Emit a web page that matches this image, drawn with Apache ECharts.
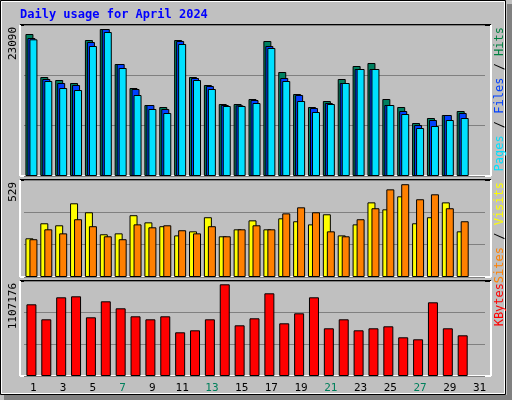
<!DOCTYPE html>
<html>
<head>
<meta charset="utf-8">
<script src="https://cdn.jsdelivr.net/npm/echarts@6/dist/echarts.min.js"></script>
<style>
  html, body { margin: 0; padding: 0; background: #c0c0c0; }
  #chart { width: 512px; height: 400px; }
</style>
</head>
<body>
<div id="chart"></div>
<script>
var days = [];
for (var d = 1; d <= 31; d++) days.push(String(d));
var weekendDays = ['6', '7', '13', '14', '20', '21', '27', '28'];

var hits = [21712, 15137, 14679, 14220, 20795, 22477, 17125, 13456, 10856, 10550, 20795, 15137, 13914, 11009, 11009, 11774,
  20642, 15902, 12538, 10550, 11468, 14832, 16819, 17278, 11774, 10550, 8104, 8868, 9327, 9939, null];
var files = [21100, 14832, 14220, 13914, 20489, 22477, 17125, 13302, 10856, 10244, 20642, 14984, 13761, 10856, 10800, 11620,
  19877, 14984, 12385, 10397, 11162, 14220, 16360, 16360, 10856, 9939, 7798, 8562, 9327, 9633, null];
var pages = [20900, 14526, 13456, 13150, 19877, 22018, 16513, 12385, 10244, 9633, 20183, 14679, 13302, 10703, 10703, 11162,
  19571, 14526, 11468, 9786, 11009, 14220, 16360, 16360, 10856, 9480, 7339, 7645, 8562, 8868, null];
var visits = [211, 293, 282, 402, 353, 233, 238, 337, 298, 277, 227, 249, 326, 222, 260, 309,
  260, 320, 304, 287, 342, 227, 287, 407, 369, 440, 293, 326, 407, 249, null];
var sites = [206, 260, 238, 315, 277, 222, 206, 287, 271, 282, 255, 238, 277, 222, 260, 282,
  260, 347, 380, 353, 249, 222, 315, 375, 478, 506, 424, 451, 375, 304, null];
var kbytes = [835600, 660800, 917200, 928800, 684100, 870600, 789000, 695800, 660800, 695800, 509300, 532600, 660800, 1068700,
  590900, 672400, 963800, 614200, 730700, 917200, 555900, 660800, 532600, 555900, 579200, 451000, 427700, 858900, 555900, 474300, null];

var hitsMax = 23090, sitesMax = 529, kbytesMax = 1107176;
var mono = 'DejaVu Sans Mono';

var chart = echarts.init(document.getElementById('chart'));

function xAxis(index, showLabels) {
  return {
    type: 'category', gridIndex: index, data: days,
    axisLine: { show: false }, axisTick: { show: false },
    axisLabel: {
      show: showLabels, margin: 7, fontFamily: mono, fontSize: 11, padding: [0, 0, 0, 4],
      color: function (v) { return weekendDays.indexOf(v) >= 0 ? '#00805c' : '#000'; }
    }
  };
}
function yAxis(index, max) {
  return {
    type: 'value', gridIndex: index, min: 0, max: max, interval: max / 3,
    axisLabel: { show: false }, axisLine: { show: false }, axisTick: { show: false },
    splitLine: { lineStyle: { color: '#808080', width: 1 } }
  };
}
function bar(name, data, color, axis, width, gap) {
  return {
    name: name, type: 'bar', data: data, xAxisIndex: axis, yAxisIndex: axis,
    barWidth: width, barGap: gap, animation: false,
    itemStyle: { color: color, borderColor: '#000', borderWidth: 1 }
  };
}
function frame(top, height) {
  return [
    { type: 'line', shape: { x1: 20, y1: top, x2: 491, y2: top }, style: { stroke: '#000', lineWidth: 2 } },
    { type: 'line', shape: { x1: 20, y1: top, x2: 20, y2: top + height }, style: { stroke: '#fff', lineWidth: 2 } },
    { type: 'line', shape: { x1: 20, y1: top + height, x2: 491, y2: top + height }, style: { stroke: '#fff', lineWidth: 2 } },
    { type: 'line', shape: { x1: 491, y1: top, x2: 491, y2: top + height }, style: { stroke: '#fff', lineWidth: 2 } }
  ];
}
function sideText(x, y, rich, text) {
  return { type: 'text', x: x, y: y, rotation: Math.PI / 2, style: { text: text, rich: rich, fontFamily: mono, fontSize: 12, align: 'right', verticalAlign: 'middle' } };
}
function leftLabel(y, text) {
  return { type: 'text', x: 13, y: y, rotation: Math.PI / 2, style: { text: text, fontFamily: mono, fontSize: 11, fill: '#000', align: 'right', verticalAlign: 'middle' } };
}

var graphics = [
  { type: 'rect', shape: { x: 0.5, y: 0.5, width: 505, height: 394 }, style: { fill: 'none', stroke: '#000', lineWidth: 1 } },
  { type: 'rect', shape: { x: 1.5, y: 1.5, width: 503, height: 392 }, style: { fill: 'none', stroke: '#fff', lineWidth: 1 } },
  { type: 'rect', shape: { x: 507, y: 4, width: 5, height: 396 }, style: { fill: '#808080' } },
  { type: 'rect', shape: { x: 4, y: 395, width: 508, height: 5 }, style: { fill: '#808080' } },
  { type: 'text', x: 20, y: 15, style: { text: 'Daily usage for April 2024', fontFamily: mono, fontWeight: 'bold', fontSize: 12, fill: '#0000ff', verticalAlign: 'middle' } },
  leftLabel(27, '23090'),
  leftLabel(182, '529'),
  leftLabel(283, '1107176'),
  sideText(500, 27, {
    p: { fill: '#00e0ff', fontFamily: mono, fontSize: 12 }, s: { fill: '#000', fontFamily: mono, fontSize: 12 },
    f: { fill: '#0040ff', fontFamily: mono, fontSize: 12 }, h: { fill: '#008040', fontFamily: mono, fontSize: 12 }
  }, '{p|Pages}{s| / }{f|Files}{s| / }{h|Hits}'),
  sideText(500, 182, {
    a: { fill: '#ff8000', fontFamily: mono, fontSize: 12 }, s: { fill: '#000', fontFamily: mono, fontSize: 12 },
    b: { fill: '#ffff00', fontFamily: mono, fontSize: 12 }
  }, '{a|Sites}{s| / }{b|Visits}'),
  sideText(500, 283, { k: { fill: '#ff0000', fontFamily: mono, fontSize: 12 } }, '{k|KBytes}')
].concat(frame(25, 151), frame(180, 97), frame(281, 95));

var option = {
  backgroundColor: '#c0c0c0',
  animation: false,
  grid: [
    { left: 24, right: 27, top: 25, height: 151 },
    { left: 24, right: 27, top: 180, height: 97 },
    { left: 24, right: 27, top: 281, height: 95 }
  ],
  xAxis: [xAxis(0, false), xAxis(1, false), xAxis(2, true)],
  yAxis: [yAxis(0, hitsMax), yAxis(1, sitesMax), yAxis(2, kbytesMax)],
  series: [
    bar('Hits', hits, '#008060', 0, 8, '-75%'),
    bar('Files', files, '#0040ff', 0, 8, '-75%'),
    bar('Pages', pages, '#00e0ff', 0, 8, '-75%'),
    bar('Visits', visits, '#ffff00', 1, 8, '-50%'),
    bar('Sites', sites, '#ff8000', 1, 8, '-50%'),
    bar('KBytes', kbytes, '#ff0000', 2, 10, '0%')
  ],
  graphic: graphics
};
chart.setOption(option);
</script>
</body>
</html>
